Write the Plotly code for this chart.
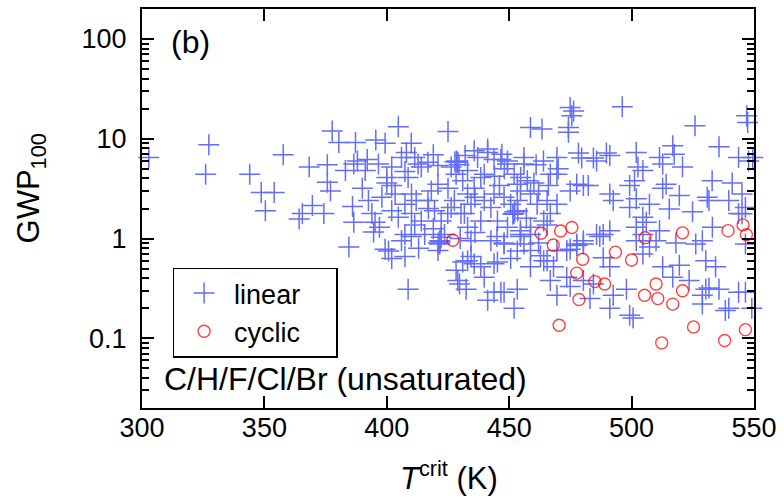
import plotly.graph_objects as go

# ---- data ----
linear_T = [
    302.8, 327.3, 326.0, 344.0, 357.7, 348.7, 354.0, 350.4, 364.2, 365.5,
    369.6, 374.3, 368.3, 375.7, 377.7, 380.4, 387.2, 395.5, 399.3, 404.7,
    425.0, 458.7, 463.4, 375.7, 377.0, 383.1, 386.5, 391.2, 392.5, 386.5,
    393.9, 395.2, 394.6, 384.5, 399.3, 400.7, 396.6, 402.0, 400.0, 402.0,
    406.0, 407.4, 411.4, 414.1, 416.8, 420.9, 426.3, 429.0, 428.3, 435.7,
    441.2, 446.6, 449.3, 454.7, 457.4, 460.1, 466.8, 403.4, 407.4, 402.0,
    404.7, 410.1, 411.4, 414.1, 416.8, 418.2, 419.5, 422.2, 421.6, 423.6,
    415.5, 407.4, 406.0, 425.0, 427.6, 426.3, 430.3, 433.0, 434.4, 435.7,
    439.8, 439.8, 442.5, 443.8, 447.9, 451.9, 453.3, 454.6, 458.7, 461.4,
    465.5, 433.0, 438.4, 445.2, 449.3, 454.6, 458.7, 465.5, 434.4, 442.5,
    447.9, 453.3,
    474.9, 476.3, 475.6, 474.2, 474.2, 496.2, 525.9, 547.4, 547.0, 535.7,
    516.8, 517.4, 501.9, 502.6, 491.1, 489.7, 485.7, 484.4, 478.3, 479.6,
    469.5, 477.6, 480.3, 482.3, 491.1, 492.5, 499.2, 501.2, 504.6, 511.4,
    512.7, 520.8, 514.1, 512.7, 519.5, 532.9, 530.9, 531.6, 539.7, 541.1,
    543.7, 547.8, 549.5, 545.1, 546.5, 543.7, 524.9, 515.4, 507.3, 499.2,
    501.9, 504.6, 506.0, 501.9, 504.6, 511.4, 510.0, 518.1, 533.0, 528.9,
    488.4, 491.1, 487.0, 480.3, 477.6, 474.9, 466.8, 469.5, 474.9, 469.5,
    456.0, 452.0, 453.3, 450.6, 438.4, 437.1, 433.0, 420.9, 412.8, 408.7,
    410.1, 424.9, 431.7, 454.6, 464.1, 458.7, 449.3, 443.8, 441.2,
    408.7, 421.6, 422.2, 420.9, 428.3, 429.7, 432.4, 433.0, 435.7, 438.4,
    441.2, 443.8, 439.8, 445.2, 447.9, 452.0, 453.3, 450.6, 456.0, 458.7,
    464.1, 466.8, 469.5, 468.1, 473.5, 474.9, 480.3, 483.0, 484.4, 488.4,
    491.1, 491.1, 492.5, 497.9, 499.2, 500.6, 501.9, 504.6, 507.3, 512.7,
    516.8, 519.5, 523.5, 528.9, 530.3, 531.6, 528.9, 534.3, 538.3, 539.7,
    543.7, 546.5, 549.1, 546.5, 545.1, 526.2, 530.3, 535.7, 485.7, 480.3,
    469.5, 462.8, 473.5, 477.6,
    402.0, 407.4, 410.0, 431.0, 434.4, 429.0, 446.6, 458.7, 465.5, 454.6,
    447.9, 443.8,
    428.5, 427.8, 429.5, 452.3, 451.5, 453.5, 421.0, 421.8, 448.0, 444.0,
    431.0, 436.0, 446.0, 417.0, 412.0, 398.0, 390.0, 386.0, 397.0, 413.0,
    419.0, 436.0, 457.0, 462.0, 466.0, 462.0, 445.0, 430.0, 400.0, 388.0,
    392.0, 408.0, 419.0, 432.0, 447.0, 456.0, 461.0, 464.0, 470.0, 410.0,
]
linear_GWP = [
    6.5, 8.7, 4.4, 4.4, 6.9, 2.9, 2.9, 1.9, 1.57, 1.78,
    2.14, 1.78, 5.2, 5.5, 12.0, 9.2, 9.2, 9.7, 9.0, 13.2,
    11.8, 13.0, 12.5, 3.66, 3.0, 4.8, 5.6, 4.8, 2.4, 1.46,
    1.78, 1.46, 1.16, 0.82, 0.78, 0.75, 5.6, 5.2, 4.1, 3.4,
    6.5, 4.7, 6.5, 5.2, 5.8, 5.4, 5.2, 5.8, 4.4, 7.6,
    7.9, 6.2, 5.6, 4.1, 3.8, 3.6, 4.4, 2.8, 2.2, 1.9,
    1.63, 1.78, 1.37, 1.5, 2.4, 3.0, 1.9, 1.5, 0.95, 1.1,
    1.1, 1.1, 0.95, 3.2, 2.4, 2.05, 1.78, 2.8, 2.2, 3.2,
    4.4, 2.4, 2.05, 2.8, 2.6, 1.78, 2.4, 3.0, 2.8, 2.2,
    2.4, 1.3, 1.5, 1.5, 1.3, 1.2, 1.1, 1.37, 0.95, 0.95,
    0.9, 0.75,
    20.6, 19.0, 17.0, 13.0, 11.6, 20.9, 13.5, 14.6, 17.0, 8.3,
    8.5, 7.0, 7.3, 5.2, 6.8, 7.2, 6.0, 6.4, 7.2, 6.4,
    4.4, 3.5, 3.4, 3.4, 2.8, 2.4, 3.4, 3.8, 4.8, 6.5,
    5.6, 5.2, 3.5, 3.2, 2.7, 3.8, 2.6, 2.4, 2.4, 3.6,
    6.5, 6.0, 6.5, 2.8, 2.05, 1.78, 1.85, 1.98, 2.2, 2.05,
    2.5, 1.63, 1.46, 1.3, 1.1, 1.2, 0.95, 0.9, 1.3, 0.95,
    1.1, 1.2, 1.05, 0.95, 0.85, 0.78, 1.78, 2.2, 3.0, 6.5,
    5.6, 4.4, 3.5, 2.2, 4.1, 6.5, 4.8, 3.5, 5.6, 4.1,
    2.8, 1.78, 1.78, 1.1, 1.5, 1.3, 6.0, 6.2, 7.3,
    0.31, 0.88, 1.03, 0.76, 0.48, 0.35, 0.31, 0.6, 0.56, 0.52,
    0.24, 0.29, 0.41, 0.58, 0.29, 0.2, 0.31, 0.63, 0.88, 0.52,
    0.6, 0.38, 0.27, 0.52, 0.41, 0.33, 0.38, 0.25, 0.35, 0.64,
    0.52, 0.2, 0.27, 0.31, 0.17, 0.16, 0.95, 0.7, 0.82, 0.52,
    0.41, 0.54, 0.38, 0.27, 0.31, 0.32, 0.22, 0.52, 0.19, 0.2,
    0.29, 0.29, 0.2, 0.88, 1.77, 0.88, 0.6, 0.31, 1.1, 0.88,
    0.76, 0.67, 0.76, 0.88,
    0.63, 0.66, 1.05, 0.58, 0.66, 0.38, 0.29, 0.76, 0.6, 1.05,
    0.88, 0.56,
    6.0, 5.9, 5.5, 1.85, 1.75, 1.9, 0.9, 0.93, 5.0, 4.2,
    3.8, 2.6, 3.4, 2.0, 2.4, 2.6, 3.2, 2.1, 1.3, 0.8,
    1.25, 1.15, 1.6, 0.9, 3.4, 3.0, 1.05, 1.0, 3.6, 6.0,
    6.2, 7.3, 6.9, 6.8, 7.0, 6.5, 5.5, 6.0, 5.0, 9.0,
]

cyclic_T = [427.0, 463.0, 468.0, 471.0, 475.6, 480.0, 477.6, 485.0, 489.0, 478.5,
            493.4, 500.0, 505.5, 505.3, 510.0, 510.7, 516.8, 520.8, 520.8, 470.4,
            512.3, 525.3, 538.0, 546.5, 539.4, 545.5, 546.9]
cyclic_GWP = [0.96, 1.13, 0.86, 1.19, 1.29, 0.62, 0.45, 0.37, 0.35, 0.245,
              0.73, 0.61, 1.02, 0.27, 0.35, 0.25, 0.22, 1.14, 0.30, 0.135,
              0.09, 0.13, 0.095, 0.122, 1.2, 1.37, 1.09]

series_names = ["linear", "cyclic"]
y_tick_vals = [0.1, 1, 10, 100]
y_tick_text = ["0.1", "1", "10", "100"]
x_tick_vals = [300, 350, 400, 450, 500, 550]

FONT = "Liberation Sans, Arial, Helvetica, sans-serif"
PAD = "\u00a0" * 4  # widens the legend box like the reference

minor_vals = [m * 10 ** e for e in range(-2, 3) for m in range(2, 10)]

fig = go.Figure()
fig.add_trace(go.Scatter(
    x=linear_T, y=linear_GWP, mode="markers", name=series_names[0] + PAD,
    marker=dict(symbol="cross-thin-open", size=15,
                line=dict(color="rgba(30,30,255,0.5)", width=1.5)),
    cliponaxis=False,
))
fig.add_trace(go.Scatter(
    x=cyclic_T, y=cyclic_GWP, mode="markers", name=series_names[1] + PAD,
    marker=dict(symbol="circle-open", size=12, color="rgba(255,0,0,0.75)",
                line=dict(color="rgba(255,0,0,0.75)", width=1.4)),
    cliponaxis=False,
))

axis_common = dict(
    showline=True, linecolor="black", linewidth=2, mirror="ticks",
    ticks="inside", ticklen=12, tickwidth=2, tickcolor="black",
    showgrid=False, zeroline=False,
    tickfont=dict(family=FONT, size=27, color="black"),
)

fig.update_layout(
    width=784, height=502,
    margin=dict(l=142, r=25, t=7, b=94),
    plot_bgcolor="white", paper_bgcolor="white",
    font=dict(family=FONT, color="black"),
    xaxis=dict(range=[300, 550], tickvals=x_tick_vals, ticklabelstandoff=-5,
               **axis_common),
    yaxis=dict(type="log", range=[-1.699, 2.301], tickvals=y_tick_vals,
               ticktext=y_tick_text, ticklabelstandoff=8,
               minor=dict(tickvals=minor_vals, ticks="inside", ticklen=7,
                          tickwidth=2, tickcolor="black", showgrid=False),
               **axis_common),
    legend=dict(x=0.050, y=0.352, xanchor="left", yanchor="top",
                bordercolor="black", borderwidth=1.5, bgcolor="white",
                font=dict(family=FONT, size=27, color="black"),
                itemwidth=50, tracegroupgap=0),
    showlegend=True,
    annotations=[
        dict(text="(b)", x=0.044, y=0.918, xref="paper", yref="paper",
             xanchor="left", yanchor="middle", showarrow=False,
             font=dict(family=FONT, size=32)),
        dict(text="C/H/F/Cl/Br (unsaturated)", x=0.032, y=0.072,
             xref="paper", yref="paper", xanchor="left", yanchor="middle",
             showarrow=False, font=dict(family=FONT, size=32)),
        dict(text="GWP<sub>100</sub>", x=-0.1815, y=0.55, xref="paper",
             yref="paper", xanchor="center", yanchor="middle", textangle=-90,
             showarrow=False, font=dict(family=FONT, size=31)),
        dict(text="<i>T</i><sup>crit</sup> (K)", x=0.502, y=-0.226,
             xref="paper", yref="paper", xanchor="center", yanchor="bottom",
             showarrow=False, font=dict(family=FONT, size=31)),
    ],
)

fig.write_html("out.html")
